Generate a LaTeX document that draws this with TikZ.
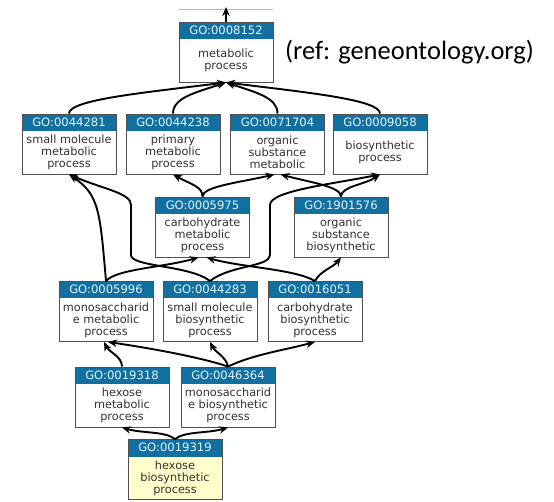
\documentclass[tikz,border=0pt]{standalone}
\usepackage{fontspec}
\setmainfont{DejaVu Sans}
\newfontfamily\reffont{Carlito}
\usetikzlibrary{arrows.meta}
\definecolor{gohead}{RGB}{18,112,160}
\definecolor{goborder}{RGB}{80,80,80}
\definecolor{gotext}{RGB}{50,50,50}
\definecolor{goyellow}{RGB}{255,255,204}
\definecolor{hdrtext}{RGB}{228,242,252}
\tikzset{
  gobox/.style={draw=goborder, line width=0.9pt, minimum width=94pt, minimum height=60pt, inner sep=0pt,
    path picture={\fill[gohead] (path picture bounding box.north west) rectangle ([yshift=-17pt]path picture bounding box.north east);}},
  gohdr/.style={text=hdrtext, font=\fontsize{11.6}{12}\selectfont, inner sep=0pt},
  gobody/.style={text=gotext, font=\fontsize{11.3}{12}\selectfont, align=center, inner sep=0pt},
  goedge/.style={line width=1.9pt, -{Stealth[length=9pt,width=7.5pt]}},
}
\newcommand\goterm[6]{%
  \node[gobox, fill=#6] (#1) at (#2,#3) {};
  \node[gohdr] (#1-id) at ([yshift=-8.5pt]#1.north) {#4};
  \node[gobody] (#1-txt) at ([yshift=-8.5pt]#1.center) {#5};
}
\begin{document}
\begin{tikzpicture}[x=1pt,y=-1pt]
\useasboundingbox (0,0) rectangle (554,502);
\fill[white] (0,0) rectangle (554,502);

\goterm{m8152}{226}{52}{GO:0008152}{metabolic\\process}{white}
\goterm{a44281}{69}{144}{GO:0044281}{small molecule\\metabolic\\process}{white}
\goterm{a44238}{173}{144}{GO:0044238}{primary\\metabolic\\process}{white}
\goterm{a71704}{277.5}{144}{GO:0071704}{organic\\substance\\metabolic}{white}
\goterm{a9058}{380}{144}{GO:0009058}{biosynthetic\\process}{white}
\goterm{b5975}{202.5}{227}{GO:0005975}{carbohydrate\\metabolic\\process}{white}
\goterm{b1901576}{341}{227}{GO:1901576}{organic\\substance\\biosynthetic}{white}
\goterm{c5996}{106}{311.5}{GO:0005996}{monosaccharid\\e metabolic\\process}{white}
\goterm{c44283}{210}{311.5}{GO:0044283}{small molecule\\biosynthetic\\process}{white}
\goterm{c16051}{315}{311.5}{GO:0016051}{carbohydrate\\biosynthetic\\process}{white}
\goterm{d19318}{122}{397}{GO:0019318}{hexose\\metabolic\\process}{white}
\goterm{d46364}{228}{397}{GO:0046364}{monosaccharid\\e biosynthetic\\process}{white}
\goterm{e19319}{175}{469.5}{GO:0019319}{hexose\\biosynthetic\\process}{goyellow}

\node[anchor=base west, inner sep=0pt, font=\reffont\fontsize{26.5}{28}\selectfont, text=black] (ref) at (285,60) {(ref: geneontology.org)};

% top
\draw[gray!55, line width=0.6pt] ([yshift=12pt]m8152.north west) -- ([yshift=12pt]m8152.north east);
\coordinate (topend) at (226,7);
\draw[goedge] (m8152.north) -- (topend);

% row 2 -> top
\draw[goedge] (a44281.north) .. controls +(0,-14) and +(-80,10) .. (m8152.south);
\draw[goedge] (a44238.north) .. controls +(0,-16) and +(-30,10) .. (m8152.south);
\draw[goedge] (a71704.north) .. controls +(0,-16) and +(30,10) .. (m8152.south);
\draw[goedge] (a9058.north) .. controls +(0,-14) and +(80,10) .. (m8152.south);

% row 3 -> row 2
\draw[goedge] (b5975.north) .. controls +(0,-10) and +(18,10) .. (a44238.south);
\draw[goedge] (b5975.north) .. controls +(0,-10) and +(-35,8) .. ([xshift=-3pt]a71704.south);
\draw[goedge] (b1901576.north) .. controls +(0,-10) and +(30,8) .. ([xshift=3pt]a71704.south);
\draw[goedge] (b1901576.north) .. controls +(0,-10) and +(-15,10) .. (a9058.south);

% row 4 -> upper rows
\coordinate (w1) at (131,255);
\coordinate (w2) at (131,205);
\coordinate (w3) at (270,255);
\coordinate (w4) at (270,205);
\draw[goedge] (c5996.north) .. controls +(-6,-70) and +(30,20) .. (a44281.south);
\draw[goedge] (c5996.north) .. controls +(10,-12) and +(-35,10) .. ([xshift=-4pt]b5975.south);
\draw[goedge] (c44283.north) .. controls +(-20,-16) and +(0,12) .. (w1) -- (w2) .. controls +(0,-12) and +(35,15) .. (a44281.south);
\draw[goedge] (c44283.north) .. controls +(20,-16) and +(0,12) .. (w3) -- (w4) .. controls +(0,-14) and +(-50,10) .. (a9058.south);
\draw[goedge] (c16051.north) .. controls +(-20,-12) and +(35,10) .. ([xshift=4pt]b5975.south);
\draw[goedge] (c16051.north) .. controls +(5,-10) and +(-8,10) .. (b1901576.south);

% row 5 -> row 4
\draw[goedge] (d19318.north) .. controls +(0,-10) and +(5,10) .. ([xshift=-2pt]c5996.south);
\draw[goedge] (d46364.north) .. controls +(-30,-10) and +(40,6) .. ([xshift=2pt]c5996.south);
\draw[goedge] (d46364.north) .. controls +(-2,-10) and +(5,10) .. (c44283.south);
\draw[goedge] (d46364.north) .. controls +(25,-12) and +(-30,8) .. (c16051.south);

% row 6 -> row 5
\draw[goedge] (e19319.north) .. controls +(-10,-8) and +(20,6) .. (d19318.south);
\draw[goedge] (e19319.north) .. controls +(10,-8) and +(-20,6) .. (d46364.south);
\end{tikzpicture}
\end{document}
